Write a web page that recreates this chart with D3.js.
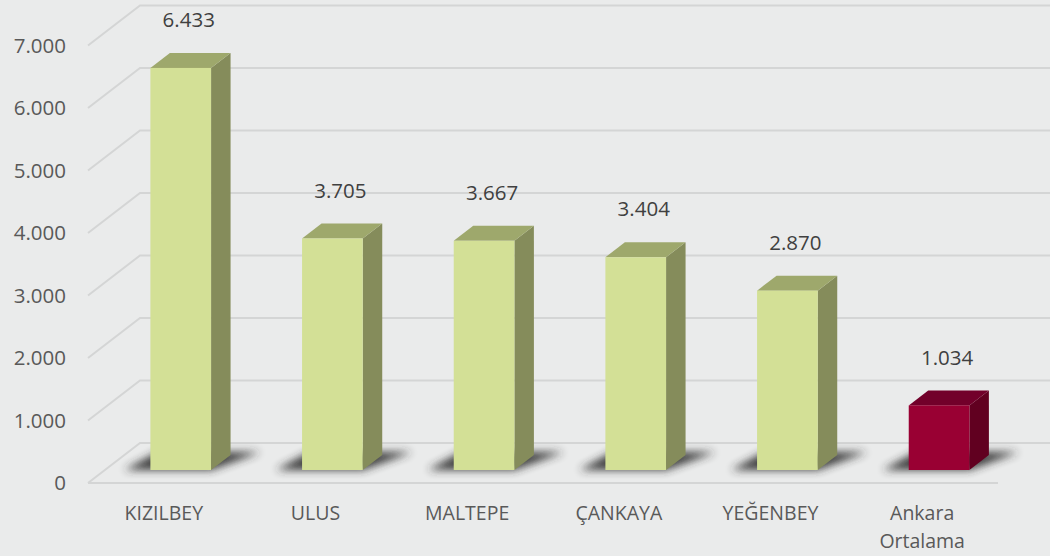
<html>
<head>
<meta charset="utf-8">
<script src="https://cdn.jsdelivr.net/npm/d3@7"></script>
<style>
  body { margin: 0; background: #eaebeb; }
  svg { display: block; font-family: "Open Sans", "Noto Sans", sans-serif; }
</style>
</head>
<body>
<svg width="1050" height="556"></svg>
<script>
// data
const categories = ["KIZILBEY", "ULUS", "MALTEPE", "ÇANKAYA", "YEĞENBEY", "Ankara Ortalama"];
const values = [6433, 3705, 3667, 3404, 2870, 1034];
const highlight = [false, false, false, false, false, true];
const yTicks = [0, 1000, 2000, 3000, 4000, 5000, 6000, 7000];

const W = 1050, H = 556;
const svg = d3.select("svg");

// depth projection: z from 0 (front edge) to 1 (back wall)
const depthX = 52, depthY = -40;
const baseY = 483;
const x = d3.scaleBand().domain(categories).range([88, 998]).paddingInner(0.6).paddingOuter(0.3);
const y = d3.scaleLinear().domain([0, 7000]).range([baseY, baseY - 7000 * 0.0625]);
const px = (xv, z) => xv + depthX * z;
const py = (v, z) => y(v) + depthY * z;
const zFront = 0.325, zBack = 0.7;

const fmt = v => d3.format(",")(v).replace(/,/g, ".");

const defs = svg.append("defs");
defs.append("filter").attr("id", "blur").attr("x", "-50%").attr("y", "-100%").attr("width", "200%").attr("height", "300%")
  .append("feGaussianBlur").attr("stdDeviation", 4);

const grid = "#d4d5d5";
const g = svg.append("g");

// gridlines: diagonal on the left then flat along the back wall
yTicks.forEach(t => {
  g.append("polyline")
    .attr("points", [[88, py(t, 0)], [px(88, 1), py(t, 1)], [W, py(t, 1)]].map(p => p.join(",")).join(" "))
    .attr("fill", "none").attr("stroke", grid).attr("stroke-width", 2);
});
// front floor edge
g.append("line").attr("x1", 88).attr("x2", 998).attr("y1", y(0)).attr("y2", y(0))
  .attr("stroke", grid).attr("stroke-width", 2);

// tick labels
g.selectAll(".tick").data(yTicks).enter().append("text")
  .attr("x", 66).attr("y", d => y(d)).attr("dy", "0.35em")
  .attr("text-anchor", "end").attr("fill", "#595959").style("font-size", "20.5px")
  .text(d => fmt(d));

// bars
const data = categories.map((c, i) => ({ c, v: values[i], hi: highlight[i] }));
const bars = g.selectAll(".bar").data(data).enter().append("g");

bars.each(function (d) {
  const s = d3.select(this);
  const x0 = px(x(d.c), zFront), x1 = x0 + x.bandwidth();
  const b0 = py(0, zFront), t0 = py(d.v, zFront);
  const dx = depthX * (zBack - zFront), dy = depthY * (zBack - zFront);
  const front = d.hi ? "#990033" : "#d3e096";
  const side = d.hi ? "#610020" : "#858c5b";
  const top = d.hi ? "#72002a" : "#9ea86c";

  // floor shadow
  s.append("polygon")
    .attr("points", [[x0 - 26, b0], [x1, b0], [x1 + dx + 30, b0 + dy - 3], [x0 + dx - 12, b0 + dy - 3]].map(p => p.join(",")).join(" "))
    .attr("fill", "#2a2a2a").attr("opacity", 0.9).attr("filter", "url(#blur)");
  // side face
  s.append("polygon")
    .attr("points", [[x1, b0], [x1, t0], [x1 + dx, t0 + dy], [x1 + dx, b0 + dy]].map(p => p.join(",")).join(" "))
    .attr("fill", side);
  // top face
  s.append("polygon")
    .attr("points", [[x0, t0], [x1, t0], [x1 + dx, t0 + dy], [x0 + dx, t0 + dy]].map(p => p.join(",")).join(" "))
    .attr("fill", top);
  // front face
  s.append("rect").attr("x", x0).attr("y", t0).attr("width", x1 - x0).attr("height", b0 - t0).attr("fill", front);
  // value label
  s.append("text")
    .attr("x", x0 + (x1 - x0) / 2 + 8).attr("y", t0 + dy - 33).attr("dy", "0.35em")
    .attr("text-anchor", "middle").attr("fill", "#404040").style("font-size", "20.5px")
    .text(fmt(d.v));
});

// category labels
g.selectAll(".cat").data(categories).enter().append("text")
  .attr("x", d => x(d) + x.bandwidth() / 2).attr("y", 513)
  .attr("text-anchor", "middle").attr("fill", "#595959").style("font-size", "19.5px")
  .each(function (d) {
    const words = d.split(" ");
    const t = d3.select(this);
    if (words.length > 1 && d.length > 10) {
      words.forEach((w, i) => t.append("tspan").attr("x", x(d) + x.bandwidth() / 2).attr("dy", i === 0 ? "0.35em" : "1.45em").text(w));
    } else {
      t.attr("dy", "0.35em").text(d);
    }
  });
</script>
</body>
</html>
